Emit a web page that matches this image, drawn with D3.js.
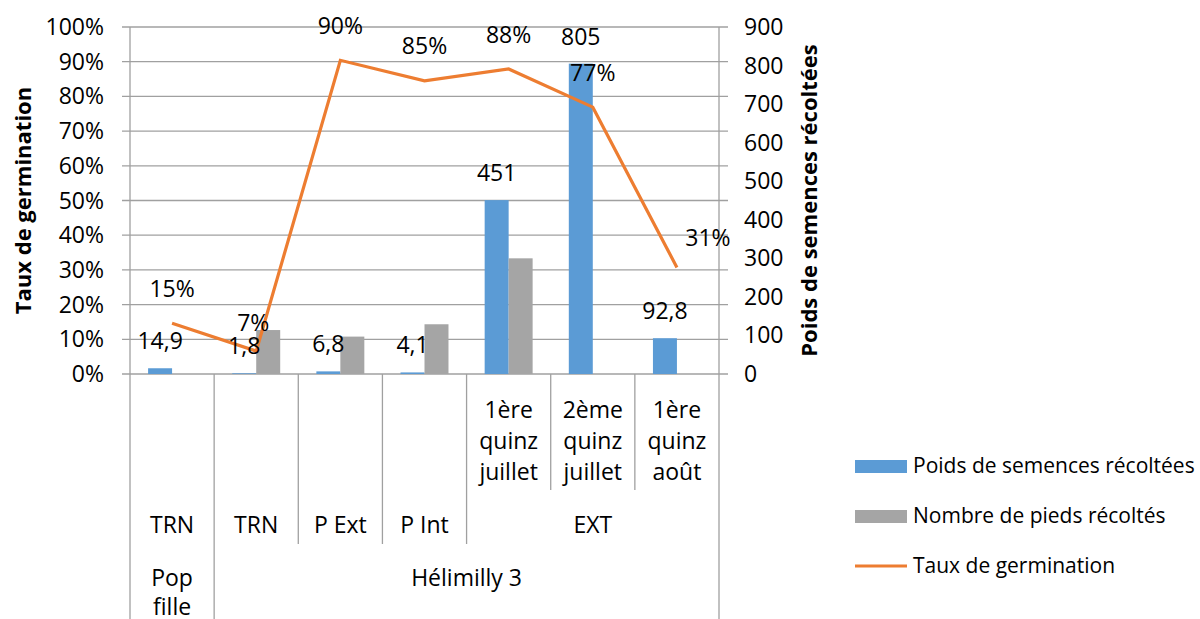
<!DOCTYPE html>
<html>
<head>
<meta charset="utf-8">
<script src="https://cdn.jsdelivr.net/npm/d3@7"></script>
<style>
  body { margin: 0; background: #fff; }
  svg { font-family: "Open Sans", sans-serif; }
</style>
</head>
<body>
<div id="chart"></div>
<script>
// data
var categories = ["c0", "c1", "c2", "c3", "c4", "c5", "c6"];
var level1 = [[], [], [], [], ["1ère", "quinz", "juillet"], ["2ème", "quinz", "juillet"], ["1ère", "quinz", "août"]];
var level2 = [{ label: "TRN", from: 0, to: 0 }, { label: "TRN", from: 1, to: 1 }, { label: "P Ext", from: 2, to: 2 },
              { label: "P Int", from: 3, to: 3 }, { label: "EXT", from: 4, to: 6 }];
var level3 = [{ label: ["Pop", "fille"], from: 0, to: 0 }, { label: ["Hélimilly 3"], from: 1, to: 6 }];
var poids = [14.9, 1.8, 6.8, 4.1, 451, 805, 92.8];
var pieds = [0, 114, 97, 129, 300, 0, 0];
var taux = [0.146, 0.066, 0.904, 0.845, 0.879, 0.769, 0.307];
var poidsLabels = ["14,9", "1,8", "6,8", "4,1", "451", "805", "92,8"];
var leftTicks = [0, 0.1, 0.2, 0.3, 0.4, 0.5, 0.6, 0.7, 0.8, 0.9, 1];
var rightTicks = [0, 100, 200, 300, 400, 500, 600, 700, 800, 900];
var seriesNames = ["Poids de semences récoltées", "Nombre de pieds récoltés", "Taux de germination"];

var colBlue = "#5B9BD5", colGray = "#A5A5A5", colOrange = "#ED7D31";

var W = 1200, H = 619;
var pLeft = 130, pRight = 719, pTop = 27, pBottom = 374;
var fs = 23; // most texts

var svg = d3.select("#chart").append("svg")
  .attr("width", W).attr("height", H);

var x = d3.scaleBand().domain(categories).range([pLeft, pRight]).padding(0);
var yL = d3.scaleLinear().domain([0, 1]).range([pBottom, pTop]);
var yR = d3.scaleLinear().domain([0, 900]).range([pBottom, pTop]);
var bw = x.bandwidth();

// gridlines + tick marks
svg.append("g").selectAll("line").data(leftTicks).enter().append("line")
  .attr("x1", pLeft - 8).attr("x2", pRight + 9)
  .attr("y1", function (d) { return yL(d); }).attr("y2", function (d) { return yL(d); })
  .attr("stroke", "#a0a0a0").attr("stroke-width", 1.3);

// vertical axis lines
svg.append("line").attr("x1", pLeft).attr("x2", pLeft).attr("y1", pTop).attr("y2", H)
  .attr("stroke", "#a0a0a0").attr("stroke-width", 1.3);
svg.append("line").attr("x1", pRight).attr("x2", pRight).attr("y1", pTop).attr("y2", H)
  .attr("stroke", "#a0a0a0").attr("stroke-width", 1.3);

// left tick labels
svg.append("g").selectAll("text").data(leftTicks).enter().append("text")
  .attr("x", 104).attr("y", function (d) { return yL(d); })
  .attr("dy", "0.35em").attr("text-anchor", "end")
  .attr("font-size", fs).attr("fill", "#000")
  .text(d3.format(".0%"));

// right tick labels
svg.append("g").selectAll("text").data(rightTicks).enter().append("text")
  .attr("x", 744).attr("y", function (d) { return yR(d); })
  .attr("dy", "0.35em").attr("text-anchor", "start")
  .attr("font-size", fs).attr("fill", "#000")
  .text(function (d) { return d; });

// axis titles
svg.append("text")
  .attr("transform", "translate(31," + (pTop + pBottom) / 2 + ") rotate(-90)")
  .attr("text-anchor", "middle").attr("font-size", 22).attr("font-weight", "bold")
  .text("Taux de germination");
svg.append("text")
  .attr("transform", "translate(817," + (pTop + pBottom) / 2 + ") rotate(-90)")
  .attr("text-anchor", "middle").attr("font-size", 22).attr("font-weight", "bold")
  .text("Poids de semences récoltées");

// bars
var barW = bw * 0.285, gapW = bw * 0.215;
svg.append("g").selectAll("rect").data(poids).enter().append("rect")
  .attr("x", function (d, i) { return x(categories[i]) + gapW; })
  .attr("y", function (d) { return yR(d); })
  .attr("width", barW)
  .attr("height", function (d) { return pBottom - yR(d); })
  .attr("fill", colBlue);
svg.append("g").selectAll("rect").data(pieds).enter().append("rect")
  .attr("x", function (d, i) { return x(categories[i]) + gapW + barW; })
  .attr("y", function (d) { return yR(d); })
  .attr("width", barW)
  .attr("height", function (d) { return pBottom - yR(d); })
  .attr("fill", colGray);

// line
var line = d3.line()
  .x(function (d, i) { return x(categories[i]) + bw / 2; })
  .y(function (d) { return yL(d); });
svg.append("path").datum(taux)
  .attr("d", line).attr("fill", "none")
  .attr("stroke", colOrange).attr("stroke-width", 3.2).attr("stroke-linejoin", "miter");

// bar labels
svg.append("g").selectAll("text").data(poids).enter().append("text")
  .attr("x", function (d, i) { return x(categories[i]) + gapW + barW / 2; })
  .attr("y", function (d) { return yR(d) - 19; })
  .attr("text-anchor", "middle").attr("font-size", fs)
  .text(function (d, i) { return poidsLabels[i]; });

// line labels (small nudges where the original moved them)
var nudgeX = [0, -3, 0, 0, 0, 0, 31];
var nudgeY = [-26, -20, -26, -27, -26, -26, -21];
svg.append("g").selectAll("text").data(taux).enter().append("text")
  .attr("x", function (d, i) { return x(categories[i]) + bw / 2 + nudgeX[i]; })
  .attr("y", function (d, i) { return yL(d) + nudgeY[i]; })
  .attr("text-anchor", "middle").attr("font-size", fs)
  .text(d3.format(".0%"));

// multi-level category axis
var row1 = pBottom, row2 = 490, row3 = 544;
var sep = svg.append("g").attr("stroke", "#a0a0a0").attr("stroke-width", 1.3);
// level 1 separators (inside groups)
[5, 6].forEach(function (i) {
  sep.append("line").attr("x1", x(categories[i])).attr("x2", x(categories[i]))
    .attr("y1", row1).attr("y2", row2);
});
// level 2 separators
[2, 3, 4].forEach(function (i) {
  sep.append("line").attr("x1", x(categories[i])).attr("x2", x(categories[i]))
    .attr("y1", row1).attr("y2", row3);
});
// level 3 separators
sep.append("line").attr("x1", x(categories[1])).attr("x2", x(categories[1]))
  .attr("y1", row1).attr("y2", H);

level1.forEach(function (lines, i) {
  lines.forEach(function (t, k) {
    svg.append("text")
      .attr("x", x(categories[i]) + bw / 2).attr("y", 410 + k * 31)
      .attr("dy", "0.35em").attr("text-anchor", "middle").attr("font-size", fs)
      .text(t);
  });
});
level2.forEach(function (g) {
  svg.append("text")
    .attr("x", (x(categories[g.from]) + x(categories[g.to]) + bw) / 2).attr("y", 525)
    .attr("dy", "0.35em").attr("text-anchor", "middle").attr("font-size", fs)
    .text(g.label);
});
level3.forEach(function (g) {
  g.label.forEach(function (t, k) {
    svg.append("text")
      .attr("x", (x(categories[g.from]) + x(categories[g.to]) + bw) / 2).attr("y", 578 + k * 29)
      .attr("dy", "0.35em").attr("text-anchor", "middle").attr("font-size", fs)
      .text(t);
  });
});

// legend
var legend = svg.append("g");
var legY = [466, 516, 566];
legend.append("rect").attr("x", 855).attr("y", legY[0] - 6).attr("width", 52).attr("height", 13).attr("fill", colBlue);
legend.append("rect").attr("x", 855).attr("y", legY[1] - 6).attr("width", 52).attr("height", 13).attr("fill", colGray);
legend.append("line").attr("x1", 855).attr("x2", 907).attr("y1", legY[2]).attr("y2", legY[2])
  .attr("stroke", colOrange).attr("stroke-width", 3.2);
legend.selectAll("text").data(seriesNames).enter().append("text")
  .attr("x", 913).attr("y", function (d, i) { return legY[i]; })
  .attr("dy", "0.35em").attr("font-size", 21)
  .text(function (d) { return d; });
</script>
</body>
</html>
